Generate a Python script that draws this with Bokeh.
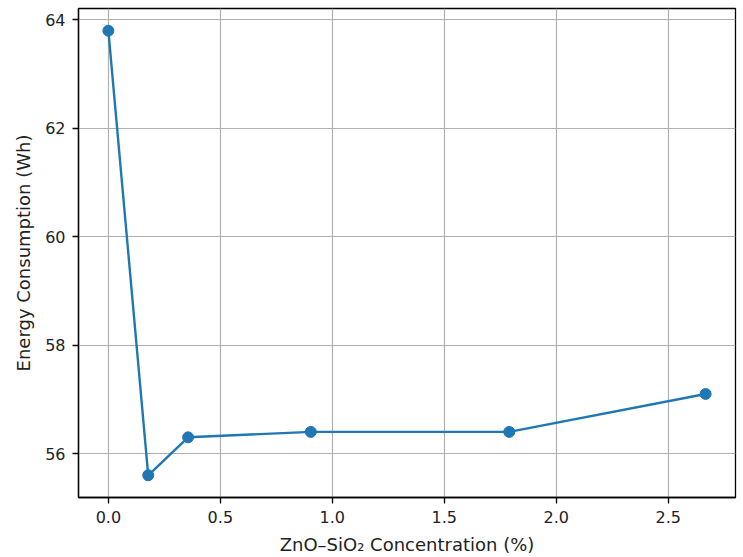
from bokeh.plotting import figure
from bokeh.models import FixedTicker, Range1d, NumeralTickFormatter
from bokeh.embed import file_html
from bokeh.resources import INLINE

concentration = [0.0, 0.178, 0.356, 0.904, 1.79, 2.667]
energy = [63.8, 55.6, 56.3, 56.4, 56.4, 57.1]
x_ticks = [0.0, 0.5, 1.0, 1.5, 2.0, 2.5]
y_ticks = [56, 58, 60, 62, 64]

FONT = "DejaVu Sans"
COLOR = "#1f77b4"

xpad = (max(concentration) - min(concentration)) * 0.05
ypad = (max(energy) - min(energy)) * 0.05

p = figure(width=743, height=557, output_backend="svg", toolbar_location=None,
           x_range=Range1d(min(concentration) - xpad, max(concentration) + xpad),
           y_range=Range1d(min(energy) - ypad, max(energy) + ypad),
           min_border_left=78, min_border_right=8, min_border_top=8, min_border_bottom=59)

p.line(concentration, energy, line_color=COLOR, line_width=2.4)
p.scatter(concentration, energy, size=11, fill_color=COLOR, line_color=COLOR)

p.xaxis.ticker = FixedTicker(ticks=x_ticks)
p.yaxis.ticker = FixedTicker(ticks=y_ticks)
p.xaxis.formatter = NumeralTickFormatter(format="0.0")
p.yaxis.formatter = NumeralTickFormatter(format="0")
p.xaxis.axis_label = "ZnO–SiO₂ Concentration (%)"
p.yaxis.axis_label = "Energy Consumption (Wh)"

for ax in (p.xaxis[0], p.yaxis[0]):
    ax.axis_label_text_font = FONT
    ax.axis_label_text_font_style = "normal"
    ax.axis_label_text_font_size = "18px"
    ax.axis_label_text_color = "#222222"
    ax.major_label_text_font = FONT
    ax.major_label_text_font_size = "16px"
    ax.major_label_text_color = "#222222"
    ax.axis_line_color = "black"
    ax.axis_line_width = 1.3
    ax.major_tick_line_color = "black"
    ax.major_tick_line_width = 1.3
    ax.major_tick_out = 6
    ax.major_tick_in = 0
    ax.minor_tick_line_color = None
    ax.axis_label_standoff = 8
    ax.major_label_standoff = 7

p.grid.grid_line_color = "#b0b0b0"
p.grid.grid_line_width = 1.2
p.outline_line_color = "black"
p.outline_line_width = 1.3
p.background_fill_color = "white"
p.border_fill_color = "white"

open("out.html", "w").write(file_html(p, INLINE))
